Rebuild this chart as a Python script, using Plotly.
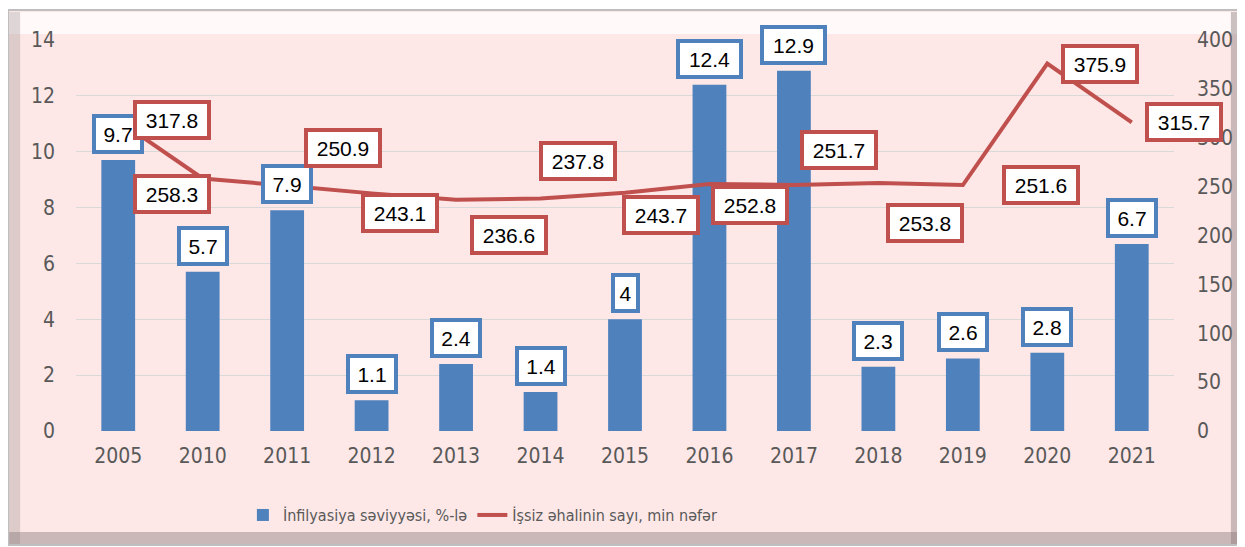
"""Inflation rate vs. unemployed population — bar + line combo with boxed labels."""

import plotly.graph_objects as go

# ── Data ─────────────────────────────────────────────────────────────────────

YEARS = ["2005", "2010", "2011", "2012", "2013", "2014", "2015",
         "2016", "2017", "2018", "2019", "2020", "2021"]
INFLATION = [9.7, 5.7, 7.9, 1.1, 2.4, 1.4, 4, 12.4, 12.9, 2.3, 2.6, 2.8, 6.7]
UNEMPLOYED = [317.8, 258.3, 250.9, 243.1, 236.6, 237.8, 243.7,
              252.8, 251.7, 253.8, 251.6, 375.9, 315.7]

BAR_NAME = "İnfilyasiya səviyyəsi, %-lə"
LINE_NAME = "İşsiz əhalinin sayı, min nəfər"

# ── Style ────────────────────────────────────────────────────────────────────

BLUE = "#4F81BD"
RED = "#C0504D"
PINK = "#FDE8E7"
GRID = "#D9D9D9"
TICK = "#595959"
FONT = "Liberation Sans Narrow, DejaVu Sans Condensed, Liberation Sans, sans-serif"
LABEL_FONT = "Liberation Sans, Arial, sans-serif"

# pixel offsets (dx, dy up) of each red label relative to its line point
LINE_LABEL_SHIFT = [(54, 0), (-31, -15), (56, 38), (28, -20), (53, -35), (37, 38),
                    (36, -22), (41, -21), (45, 35), (47, -40), (78, 0), (53, 0), (52, 0)]


def _label_width(txt: str) -> int:
    digits = sum(c.isdigit() for c in txt)
    return 15 * digits + 8 * txt.count(".") + 2


fig = go.Figure()

fig.add_trace(go.Bar(
    x=YEARS, y=INFLATION, name=BAR_NAME,
    marker=dict(color=BLUE, line=dict(width=0)),
    width=0.4,
))
fig.add_trace(go.Scatter(
    x=YEARS, y=UNEMPLOYED, name=LINE_NAME, yaxis="y2",
    mode="lines", line=dict(color=RED, width=4),
))

# annotations sit on the category axis by index
annotations = []
for i, v in enumerate(INFLATION):
    txt = f"{v:g}"
    annotations.append(dict(
        x=i, y=v, xref="x", yref="y", text=txt, showarrow=False,
        yanchor="bottom", yshift=6,
        font=dict(family=LABEL_FONT, size=21, color="#000000"),
        bgcolor="#FFFFFF", bordercolor=BLUE, borderwidth=4, borderpad=2,
        width=_label_width(txt), height=28,
    ))
for i, (v, (dx, dy)) in enumerate(zip(UNEMPLOYED, LINE_LABEL_SHIFT)):
    annotations.append(dict(
        x=i, y=v, xref="x", yref="y2", text=f"{v:.1f}", showarrow=False,
        xshift=dx, yshift=dy,
        font=dict(family=LABEL_FONT, size=21, color="#000000"),
        bgcolor="#FFFFFF", bordercolor=RED, borderwidth=4, borderpad=2,
        width=66, height=28,
    ))


# frame, given in window pixels (page body adds an 8px margin);
# plot area spans x 76..1176, y 40..431 in window pixels
def _px(x, y):
    return (x - 76) / 1100, (431 - y) / 391


shapes = []
x0, y0 = _px(8, 545)
x1, y1 = _px(1244, 10)
shapes.append(dict(type="rect", xref="paper", yref="paper", x0=x0, y0=y0, x1=x1, y1=y1,
                   fillcolor=PINK, line=dict(color="#BFBFBF", width=2), layer="below"))
for (ax, ay, bx, by, col) in [
    (9, 12, 1243, 34, "rgba(255,255,255,0.75)"),
    (9, 12, 20, 544, "rgba(160,150,150,0.35)"),
    (1233, 12, 1244, 544, "rgba(140,125,125,0.45)"),
    (9, 532, 1244, 544, "rgba(140,125,125,0.45)"),
]:
    sx0, sy0 = _px(ax, by)
    sx1, sy1 = _px(bx, ay)
    shapes.append(dict(type="rect", xref="paper", yref="paper", x0=sx0, y0=sy0, x1=sx1, y1=sy1,
                       fillcolor=col, line=dict(width=0), layer="below"))

fig.update_layout(
    width=1237, height=539,
    paper_bgcolor="#FFFFFF",
    plot_bgcolor="rgba(0,0,0,0)",
    margin=dict(l=68, r=69, t=32, b=116),
    font=dict(family=FONT, color=TICK),
    showlegend=True,
    xaxis=dict(
        type="category", range=[-0.5, len(YEARS) - 0.5],
        showgrid=False, zeroline=False, showline=False, ticks="",
        tickfont=dict(size=21, color=TICK),
        ticklabelstandoff=10,
    ),
    yaxis=dict(
        range=[0, 14], dtick=2, showgrid=True, gridcolor=GRID, gridwidth=1,
        zeroline=False, showline=False, ticks="",
        tickfont=dict(size=21, color=TICK),
        ticklabelstandoff=20,
    ),
    yaxis2=dict(
        range=[0, 400], dtick=50, overlaying="y", side="right",
        showgrid=False, zeroline=False, showline=False, ticks="",
        tickfont=dict(size=21, color=TICK),
        ticklabelstandoff=22,
    ),
    legend=dict(
        orientation="h", x=0.152, xanchor="left", y=-0.215, yanchor="middle",
        bgcolor="rgba(0,0,0,0)", font=dict(size=16, color=TICK),
        itemwidth=30, tracegroupgap=0,
    ),
    annotations=annotations,
    shapes=shapes,
)

fig.write_html("out.html")
